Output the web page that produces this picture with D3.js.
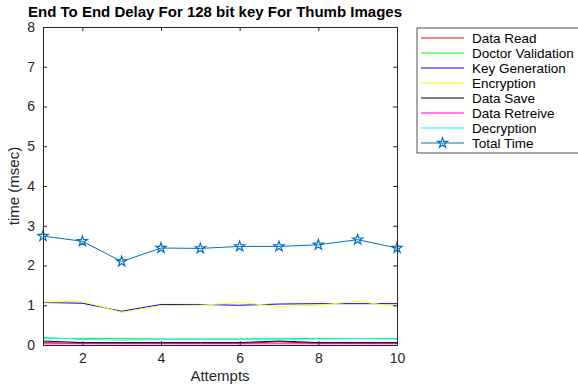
<!DOCTYPE html>
<html>
<head>
<meta charset="utf-8">
<script src="https://cdn.jsdelivr.net/npm/d3@7"></script>
<style>
  body { margin: 0; background: #fff; }
  svg { font-family: "Liberation Sans", Arial, sans-serif; }
</style>
</head>
<body>
<div id="chart"></div>
<script>
const attempts = [1, 2, 3, 4, 5, 6, 7, 8, 9, 10]
const dataRead = [0.06, 0.04, 0.04, 0.04, 0.04, 0.04, 0.08, 0.04, 0.04, 0.04]
const doctorValidation = [0.17, 0.16, 0.16, 0.15, 0.15, 0.15, 0.16, 0.16, 0.16, 0.16]
const keyGeneration = [1.07, 1.05, 0.85, 1.02, 1.02, 1.0, 1.03, 1.04, 1.04, 1.04]
const encryption = [1.08, 1.1, 0.82, 0.99, 1.0, 1.07, 0.97, 1.0, 1.1, 0.96]
const dataSave = [0.1, 0.06, 0.06, 0.06, 0.06, 0.06, 0.1, 0.06, 0.06, 0.06]
const dataRetreive = [0.03, 0.03, 0.03, 0.03, 0.03, 0.03, 0.03, 0.03, 0.03, 0.03]
const decryption = [0.19, 0.14, 0.12, 0.14, 0.14, 0.14, 0.15, 0.15, 0.16, 0.15]
const totalTime = [2.74, 2.61, 2.1, 2.44, 2.43, 2.48, 2.48, 2.52, 2.65, 2.44]

const xTicks = [2, 4, 6, 8, 10]
const yTicks = [0, 1, 2, 3, 4, 5, 6, 7, 8]

const seriesList = [
  {name: 'Data Read', values: dataRead, color: '#ff0000'},
  {name: 'Doctor Validation', values: doctorValidation, color: '#00ff00'},
  {name: 'Key Generation', values: keyGeneration, color: '#0000ff'},
  {name: 'Encryption', values: encryption, color: '#ffff00'},
  {name: 'Data Save', values: dataSave, color: '#000000'},
  {name: 'Data Retreive', values: dataRetreive, color: '#ff00ff'},
  {name: 'Decryption', values: decryption, color: '#00ffff'},
  {name: 'Total Time', values: totalTime, color: '#0072bd', star: true}
]

const width = 578, height = 385
const margin = {left: 43, right: 181, top: 27, bottom: 40}

const svg = d3.select('#chart').append('svg')
  .attr('width', width)
  .attr('height', height)

let x = d3.scaleLinear().domain([1, 10]).range([margin.left, width - margin.right])
let y = d3.scaleLinear().domain([0, 8]).range([height - margin.bottom, margin.top])

// star path for markers
const star = d3.symbol().type(d3.symbolStar).size(32)

let line = d3.line()
  .x((d, i) => x(attempts[i]))
  .y(d => y(d))

const plot = svg.append('g')

seriesList.forEach(s => {
  plot.append('path')
    .datum(s.values)
    .attr('fill', 'none')
    .attr('stroke', s.color)
    .attr('stroke-width', 1)
    .attr('d', line)
  if (s.star) {
    plot.selectAll('.star')
      .data(s.values)
      .enter().append('path')
      .attr('transform', (d, i) => 'translate(' + x(attempts[i]) + ',' + y(d) + ')')
      .attr('d', star)
      .attr('fill', 'none')
      .attr('stroke', s.color)
      .attr('stroke-width', 1.2)
  }
})

// axes (MATLAB box style, ticks inward)
const axColor = '#262626'
svg.append('g')
  .attr('transform', 'translate(0,' + y(0) + ')')
  .call(d3.axisBottom(x).tickValues(xTicks).tickSizeInner(-4).tickSizeOuter(0).tickPadding(8))
svg.append('g')
  .attr('transform', 'translate(0,' + y(8) + ')')
  .call(d3.axisTop(x).tickValues(xTicks).tickSizeInner(-4).tickSizeOuter(0).tickFormat(''))
svg.append('g')
  .attr('transform', 'translate(' + x(1) + ',0)')
  .call(d3.axisLeft(y).tickValues(yTicks).tickSizeInner(-4).tickSizeOuter(0).tickPadding(8))
svg.append('g')
  .attr('transform', 'translate(' + x(10) + ',0)')
  .call(d3.axisRight(y).tickValues(yTicks).tickSizeInner(-4).tickSizeOuter(0).tickFormat(''))

svg.selectAll('.domain, .tick line').attr('stroke', axColor)
svg.selectAll('.tick text')
  .attr('fill', axColor)
  .style('font-size', '14px')
  .style('font-family', '"Liberation Sans", Arial, sans-serif')

svg.append('text')
  .attr('x', (x(1) + x(10)) / 2 - 5)
  .attr('y', 17)
  .attr('text-anchor', 'middle')
  .style('font-size', '15px')
  .style('font-weight', 'bold')
  .text('End To End Delay For 128 bit key For Thumb Images')

svg.append('text')
  .attr('x', (x(1) + x(10)) / 2)
  .attr('y', 381)
  .attr('text-anchor', 'middle')
  .attr('fill', axColor)
  .style('font-size', '15px')
  .text('Attempts')

svg.append('text')
  .attr('transform', 'translate(19,' + y(4) + ') rotate(-90)')
  .attr('text-anchor', 'middle')
  .attr('fill', axColor)
  .style('font-size', '15px')
  .text('time (msec)')

// legend
const legend = svg.append('g').attr('transform', 'translate(417,28)')
legend.append('rect')
  .attr('width', 170)
  .attr('height', 125)
  .attr('fill', '#fff')
  .attr('stroke', '#262626')
  .attr('stroke-width', 0.8)

seriesList.forEach((s, i) => {
  let ly = 10 + i * 15
  legend.append('line')
    .attr('x1', 4).attr('x2', 47)
    .attr('y1', ly).attr('y2', ly)
    .attr('stroke', s.color)
  if (s.star) {
    legend.append('path')
      .attr('transform', 'translate(25.5,' + ly + ')')
      .attr('d', star)
      .attr('fill', 'none')
      .attr('stroke', s.color)
      .attr('stroke-width', 1.2)
  }
  legend.append('text')
    .attr('x', 55)
    .attr('y', ly + 5)
    .style('font-size', '13.5px')
    .attr('fill', '#000')
    .text(s.name)
})
</script>
</body>
</html>
